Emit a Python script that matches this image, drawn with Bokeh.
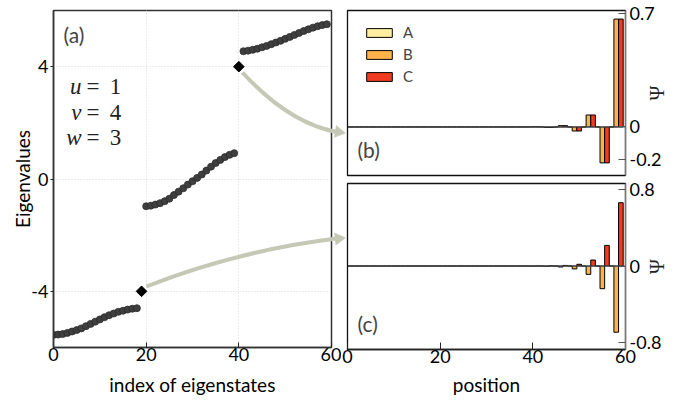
import math
from bokeh.plotting import figure
from bokeh.layouts import row, column
from bokeh.models import (Range1d, FixedTicker, Label, Span, Legend, LegendItem)
from bokeh.core.properties import value
from bokeh.embed import file_html
from bokeh.resources import INLINE

# ---------------- data ----------------
eig_index = list(range(60))
eigenvalues = [
    -5.55, -5.54, -5.52, -5.48, -5.43, -5.38, -5.32, -5.24, -5.16, -5.08,
    -5.00, -4.92, -4.85, -4.79, -4.73, -4.69, -4.65, -4.62, -4.60, -4.00,
    -0.97, -0.95, -0.91, -0.86, -0.79, -0.70, -0.57, -0.45, -0.33, -0.20,
    -0.08, 0.04, 0.16, 0.30, 0.44, 0.57, 0.68, 0.78, 0.86, 0.92,
    4.00, 4.55, 4.57, 4.60, 4.64, 4.69, 4.74, 4.80, 4.86, 4.92,
    4.99, 5.06, 5.13, 5.20, 5.27, 5.33, 5.39, 5.44, 5.48, 5.51,
]
edge_indices = [19, 40]

cells = list(range(20))
psi_b_A = [0, 0, 0, 0, 0, 0, 0, 0, 0, 0, 0, 0, 0, 0, 0, 0, 0, 0, 0, 0]
psi_b_B = [0, 0, 0, 0, 0, 0, 0, 0, 0, 0, 0, 0, 0,
           0.001, -0.003, 0.008, -0.025, 0.074, -0.222, 0.667]
psi_b_C = [0, 0, 0, 0, 0, 0, 0, 0, 0, 0, 0, 0, 0,
           0.001, -0.003, 0.008, -0.025, 0.074, -0.222, 0.667]
psi_c_A = [0, 0, 0, 0, 0, 0, 0, 0, 0, 0, 0, 0, 0, 0, 0, 0, 0, 0, 0, 0]
psi_c_B = [0, 0, 0, 0, 0, 0, 0, 0, 0, 0, 0, 0, 0,
           -0.001, -0.0035, -0.01, -0.03, -0.087, -0.236, -0.69]
psi_c_C = [0, 0, 0, 0, 0, 0, 0, 0, 0, 0, 0, 0, 0,
           0.0007, 0.002, 0.006, 0.018, 0.0625, 0.215, 0.66]

sublattices = ["A", "B", "C"]
colors = ["#ffeda0", "#feb24c", "#f03b20"]

x_ticks = [0, 20, 40, 60]
eig_ticks = [-4, 0, 4]
b_ticks = [-0.2, 0, 0.7]
c_ticks = [-0.8, 0, 0.8]

param_names = ["u", "v", "w"]
param_values = ["1", "4", "3"]

# ---------------- layout / styling ----------------
TICK_FONT = "Lato"
MATH_FONT = "Liberation Serif"
ARROW_COLOR = "#c4c8b4"

FRAME_W = 278
A_LEFT, A_RIGHT_PAD, A_TOP, A_FRAME_H, A_H = 53, 10, 10, 337, 403
R_LEFT_PAD, R_RIGHT_PAD = 6, 59
B_TOP, B_FRAME_H, B_BOTTOM = 10, 165, 2
C_TOP, C_FRAME_H = 6, 166
C_H = A_H - (B_TOP + B_FRAME_H + B_BOTTOM)

xr_a = Range1d(0, 60)
yr_a = Range1d(-6, 6)
xr_r = Range1d(0, 60)
yr_b = Range1d(-0.3, 0.72)
yr_c = Range1d(-0.87, 0.86)

# page-pixel geometry of the two linking arrows (decoration, not data)
arrow_defs = [
    dict(start=(242, 72), ctrl=(288, 122.4), end=(336, 131.5), head=(338.2, 131.5),
         head_angle=-math.pi / 2 - 0.17, target="b"),
    dict(start=(146, 286), ctrl=(236, 250.4), end=(336, 238.1), head=(338.1, 238.1),
         head_angle=-math.pi / 2 + 0.12, target="c"),
]
# page-pixel placement of the parameter annotation rows
param_rows_py = [86, 112, 137]
PARAM_NAME_RIGHT, PARAM_EQ_CENTER, PARAM_VAL_CENTER = 81, 92.5, 115

RIGHT_FRAME_X0 = A_LEFT + FRAME_W + A_RIGHT_PAD + R_LEFT_PAD
B_FRAME_Y0 = B_TOP
C_FRAME_Y0 = B_TOP + B_FRAME_H + B_BOTTOM + C_TOP


def page_to_data(px, py, x0, y0, xr, yr, fh):
    x = xr.start + (px - x0) / FRAME_W * (xr.end - xr.start)
    y = yr.end - (py - y0) / fh * (yr.end - yr.start)
    return x, y


def tick_overrides(ticks):
    return {t: str(t) for t in ticks}


# ---------------- panel (a) ----------------
pa = figure(width=A_LEFT + FRAME_W + A_RIGHT_PAD, height=A_H, x_range=xr_a, y_range=yr_a,
            output_backend="svg", toolbar_location=None,
            min_border_left=A_LEFT, min_border_right=A_RIGHT_PAD, min_border_top=A_TOP,
            min_border_bottom=A_H - A_TOP - A_FRAME_H)
pa.outline_line_color = "#333333"
pa.outline_line_width = 1.5

bulk_x = [i for i in eig_index if i not in edge_indices]
bulk_y = [eigenvalues[i] for i in bulk_x]
edge_x = list(edge_indices)
edge_y = [eigenvalues[i] for i in edge_indices]

pa.scatter(bulk_x, bulk_y, size=7, fill_color="#3f3f3f", line_color="#2b2b2b",
           line_width=0.8)
pa.scatter(edge_x, edge_y, marker="square", angle=math.pi / 4, size=7.5,
           fill_color="black", line_color="black")


def to_a(px, py):
    return page_to_data(px, py, A_LEFT, A_TOP, xr_a, yr_a, A_FRAME_H)


for a in arrow_defs:
    s, c, e, h = to_a(*a["start"]), to_a(*a["ctrl"]), to_a(*a["end"]), to_a(*a["head"])
    pa.quadratic(x0=[s[0]], y0=[s[1]], x1=[e[0]], y1=[e[1]], cx=[c[0]], cy=[c[1]],
                 line_color=ARROW_COLOR, line_width=4, level="overlay")
    pa.scatter([h[0]], [h[1]], marker="triangle", size=12, angle=a["head_angle"],
               fill_color=ARROW_COLOR, line_color=ARROW_COLOR, line_width=0.5,
               level="overlay")

pa.xaxis.ticker = FixedTicker(ticks=x_ticks)
pa.yaxis.ticker = FixedTicker(ticks=eig_ticks)
pa.yaxis.major_label_overrides = tick_overrides(eig_ticks)
pa.xaxis.axis_label = "index of eigenstates"
pa.yaxis.axis_label = "Eigenvalues"
for ax in (pa.xaxis[0], pa.yaxis[0]):
    ax.axis_line_color = "#333333"
    ax.axis_line_width = 1.5
    ax.major_tick_line_color = "#222222"
    ax.minor_tick_line_color = None
    ax.major_label_text_font = TICK_FONT
    ax.major_label_text_font_size = "18px"
    ax.major_label_text_color = "black"
    ax.axis_label_text_font = TICK_FONT
    ax.axis_label_text_font_size = "19px"
    ax.axis_label_text_font_style = "normal"
    ax.axis_label_text_color = "black"
pa.xaxis.major_tick_in = 5
pa.xaxis.major_tick_out = 0
pa.xaxis.major_label_standoff = 0
pa.xaxis.axis_label_standoff = 9
pa.yaxis.major_tick_in = 0
pa.yaxis.major_tick_out = 3
pa.yaxis.major_label_standoff = 2
pa.yaxis.axis_label_standoff = -6
pa.grid.grid_line_color = "#d8d8d8"
pa.grid.grid_line_dash = "1 2"
pa.grid.grid_line_width = 1

pa.add_layout(Label(x=10, y=313, x_units="screen", y_units="screen", text="(a)",
                    text_font=TICK_FONT, text_font_size="21px",
                    text_baseline="middle", text_align="left"))

name_x, name_y, eq_x, val_x = [], [], [], []
for py in param_rows_py:
    nx, ny = to_a(PARAM_NAME_RIGHT, py)
    ex, _ = to_a(PARAM_EQ_CENTER, py)
    vx, _ = to_a(PARAM_VAL_CENTER, py)
    name_x.append(nx)
    name_y.append(ny)
    eq_x.append(ex)
    val_x.append(vx)
pa.text(x=name_x, y=name_y, text=param_names, text_font=value(MATH_FONT),
        text_font_style="italic", text_font_size=value("23px"), text_align="right",
        text_baseline="middle", text_color="#222222")
pa.text(x=eq_x, y=name_y, text=["=", "=", "="], text_font=value(MATH_FONT),
        text_font_size=value("23px"), text_align="center", text_baseline="middle",
        text_color="#222222")
pa.text(x=val_x, y=name_y, text=param_values, text_font=value(MATH_FONT),
        text_font_size=value("23px"), text_align="center", text_baseline="middle",
        text_color="#222222")


# ---------------- panels (b) and (c) ----------------
def wave_panel(height, top, bottom, frame_h, frame_y0, yr, ticks, psiA, psiB, psiC,
               tag, with_xaxis, target, legend=False):
    p = figure(width=R_LEFT_PAD + FRAME_W + R_RIGHT_PAD, height=height,
               x_range=xr_r, y_range=yr,
               output_backend="svg", toolbar_location=None,
               y_axis_location="right",
               x_axis_location="below" if with_xaxis else None,
               min_border_left=R_LEFT_PAD, min_border_right=R_RIGHT_PAD,
               min_border_top=top, min_border_bottom=bottom)
    p.grid.visible = False
    p.outline_line_color = "#111111"
    p.outline_line_width = 1.3
    p.add_layout(Span(location=0, dimension="width", line_color="#555555",
                      line_width=1))
    pos_A = [3 * c for c in cells]
    pos_B = [3 * c + 1 for c in cells]
    pos_C = [3 * c + 2 for c in cells]
    rs = []
    for pos, vals, col in zip([pos_A, pos_B, pos_C], [psiA, psiB, psiC], colors):
        r = p.vbar(x=pos, top=vals, bottom=0, width=1.0, fill_color=col,
                   line_color="black", line_width=1)
        rs.append(r)
    ya = p.yaxis[0]
    ya.ticker = FixedTicker(ticks=ticks)
    ya.major_label_overrides = tick_overrides(ticks)
    ya.axis_line_color = "#777777"
    ya.axis_line_width = 1.3
    ya.major_tick_line_color = "#555555"
    ya.major_tick_in = 7
    ya.major_tick_out = 0
    ya.minor_tick_line_color = None
    ya.major_label_standoff = 4
    ya.major_label_text_font = TICK_FONT
    ya.major_label_text_font_size = "18px"
    ya.major_label_text_color = "black"
    if with_xaxis:
        xa = p.xaxis[0]
        xa.ticker = FixedTicker(ticks=x_ticks)
        xa.axis_line_color = "#222222"
        xa.axis_line_width = 1.3
        xa.major_tick_in = 7
        xa.major_tick_out = 0
        xa.minor_tick_line_color = None
        xa.major_tick_line_color = "#222222"
        xa.major_label_standoff = 0
        xa.major_label_text_font = TICK_FONT
        xa.major_label_text_font_size = "18px"
        xa.major_label_text_color = "black"
        xa.axis_label = "position"
        xa.axis_label_standoff = 7
        xa.axis_label_text_font = TICK_FONT
        xa.axis_label_text_font_size = "19px"
        xa.axis_label_text_font_style = "normal"
        xa.axis_label_text_color = "black"
    # rotated Psi label right of the axis (unclipped overlay text)
    p.text(x=[66.9], y=[(yr.start + yr.end) / 2], text=["Ψ"], angle=math.pi / 2,
           text_font=value(MATH_FONT), text_font_size=value("20px"),
           text_align="center", text_baseline="middle", text_color="#222222",
           level="overlay")
    # the part of the arrow head that lies in this canvas
    for a in arrow_defs:
        if a["target"] == target:
            hx, hy = page_to_data(a["head"][0], a["head"][1], RIGHT_FRAME_X0, frame_y0,
                                  xr_r, yr, frame_h)
            p.scatter([hx], [hy], marker="triangle", size=12, angle=a["head_angle"],
                      fill_color=ARROW_COLOR, line_color=ARROW_COLOR, line_width=0.5,
                      level="overlay")
    p.add_layout(Label(x=10, y=26, x_units="screen", y_units="screen", text=tag,
                       text_font=TICK_FONT, text_font_size="21px",
                       text_baseline="middle", text_align="left"))
    if legend:
        items = [LegendItem(label=s, renderers=[r]) for s, r in zip(sublattices, rs)]
        lg = Legend(items=items, location=(16, 90), glyph_width=32, glyph_height=11,
                    label_height=18, label_standoff=8, spacing=4, padding=0,
                    margin=0, border_line_color=None, background_fill_alpha=0,
                    label_text_font=TICK_FONT, label_text_font_size="15px")
        p.add_layout(lg)
    return p


pb = wave_panel(B_TOP + B_FRAME_H + B_BOTTOM, B_TOP, B_BOTTOM, B_FRAME_H, B_FRAME_Y0,
                yr_b, b_ticks, psi_b_A, psi_b_B, psi_b_C, "(b)", False, "b",
                legend=True)
pc = wave_panel(C_H, C_TOP, C_H - C_TOP - C_FRAME_H, C_FRAME_H, C_FRAME_Y0,
                yr_c, c_ticks, psi_c_A, psi_c_B, psi_c_C, "(c)", True, "c")

layout = row(pa, column(pb, pc, spacing=0), spacing=0)
open("out.html", "w").write(file_html(layout, INLINE))
